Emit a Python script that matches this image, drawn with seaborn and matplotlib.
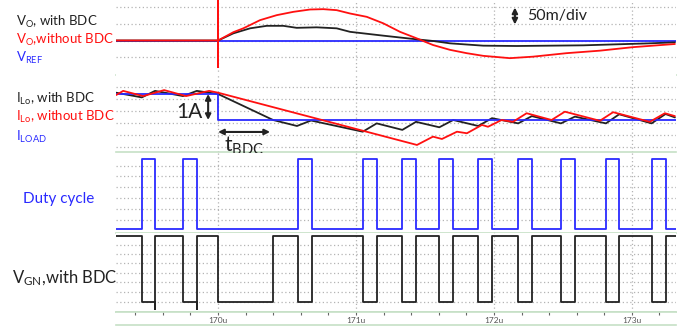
import numpy as np
import seaborn as sns
import matplotlib.pyplot as plt

# time axis (us)
t_min, t_max = 169.26, 173.32
t_major = [170, 171, 172, 173]
t_major_labels = ['170u', '171u', '172u', '173u']
t_minor = [169.4, 169.6, 169.8, 170.2, 170.4, 170.6, 170.8, 171.2, 171.4, 171.6, 171.8,
           172.2, 172.4, 172.6, 172.8, 173.2]

# output voltage deviation (mV), 50 mV/div
vo_nobdc_t = [169.26, 170.0, 170.0, 170.0, 170.0, 170.111, 170.183, 170.304, 170.425, 170.546,
              170.667, 170.763, 170.86, 170.957, 171.078, 171.198, 171.319, 171.44, 171.558,
              171.681, 171.802, 171.922, 172.116, 172.283, 172.527, 172.768, 173.007, 173.312]
vo_nobdc = [0, 0, 130, -80, 0, 25, 36.5, 61, 76, 86,
            93, 94, 91, 81, 71, 51.5, 26, 6.5, -13.5,
            -28, -38, -46, -53, -48.5, -38, -30.5, -20, -10.5]
vo_bdc_t = [169.26, 170.0, 170.111, 170.232, 170.353, 170.473, 170.57, 170.715, 170.86, 170.957,
            171.198, 171.44, 171.56, 171.681, 171.922, 172.164, 172.406, 172.647, 172.889,
            173.13, 173.312]
vo_bdc = [0, 0, 21.5, 36.5, 44, 44, 38, 39.5, 36.5, 26,
          14.5, 3.5, -1.5, -8.5, -15.5, -16.5, -15.5, -14.5, -11.5,
          -8.5, -5.5]
vref_t = [169.26, 173.32]
vref = [0, 0]

# inductor current (A, relative to final load)
il_bdc_t = [169.261, 169.447, 169.543, 169.746, 169.846, 170.0, 170.399, 170.572, 170.674,
            171.049, 171.15, 171.336, 171.435, 171.604, 171.705, 171.886, 171.986, 172.176,
            172.275, 172.486, 172.587, 172.812, 172.908, 173.143, 173.244, 173.312]
il_bdc = [1.05, 0.87, 1.12, 0.92, 1.12, 1.0, 0.0, -0.23, -0.02,
          -0.45, -0.13, -0.38, -0.07, -0.28, 0.0, -0.23, 0.07, -0.13,
          0.15, -0.13, 0.13, -0.13, 0.22, -0.13, 0.23, 0.10]
il_nobdc_t = [169.261, 169.312, 169.457, 169.609, 169.768, 169.935, 170.0, 171.442, 171.558,
              171.623, 171.732, 171.804, 171.913, 171.957, 172.056, 172.138, 172.237, 172.418,
              172.514, 172.768, 172.864, 173.13, 173.239, 173.312]
il_nobdc = [0.96, 1.12, 0.92, 1.15, 0.92, 1.12, 1.05, -0.96, -0.64,
            -0.73, -0.45, -0.51, -0.19, -0.26, 0.0, -0.07, 0.26, 0.0,
            0.32, -0.03, 0.30, -0.07, 0.26, 0.15]
iload_t = [169.26, 170.0, 170.0, 173.32]
iload = [1.0, 1.0, 0.0, 0.0]

# duty cycle pulses (rise, fall) in us
duty_rise = [169.447, 169.746, 170.578, 171.049, 171.336, 171.604, 171.886, 172.176, 172.486, 172.812, 173.143]
duty_fall = [169.543, 169.846, 170.679, 171.15, 171.435, 171.705, 171.983, 172.273, 172.587, 172.908, 173.245]

# low-side gate: low intervals
vgn_fall = [169.447, 169.746, 170.002, 170.578, 171.049, 171.336, 171.604, 171.886, 172.176, 172.486, 172.812, 173.143]
vgn_rise = [169.543, 169.846, 170.396, 170.679, 171.15, 171.435, 171.705, 171.983, 172.273, 172.587, 172.908, 173.245]
vgn_spike = [169.543, 169.846]

RED = '#ff1010'
BLUE = '#2a2aff'
BLACK = '#222222'
GREEN = '#c6e0c6'
GRID = '#b4b4b4'

sns.set_style('white')
plt.rcParams['font.family'] = ['Lato', 'DejaVu Sans']
plt.rcParams['mathtext.fontset'] = 'custom'
plt.rcParams['mathtext.rm'] = 'Lato'
plt.rcParams['mathtext.it'] = 'Lato:italic'

W, H = 700, 332
fig = plt.figure(figsize=(7, 3.32), dpi=100)


def panel(ytop, ybot):
    ax = fig.add_axes([116 / W, 1 - ybot / H, 560 / W, (ybot - ytop) / H])
    ax.set_xlim(t_min, t_max)
    for s in ['top', 'left', 'right']:
        ax.spines[s].set_visible(False)
    ax.spines['bottom'].set_color(GREEN)
    ax.spines['bottom'].set_linewidth(1.2)
    ax.set_xticks([])
    ax.set_yticks([])
    for t in t_major:
        ax.axvline(t, color=GRID, lw=0.9, ls=(0, (1, 2)), zorder=0)
    return ax


def hgrid(ax, levels):
    for v in levels:
        ax.axhline(v, color=GRID, lw=0.9, ls=(0, (1, 2)), zorder=0)


def square(rises, falls, start, hi, lo, spikes=(), spike_lvl=None):
    xs, ys = [t_min], [start]
    if start == lo:
        for r, f in zip(rises, falls):
            xs += [r, r, f, f]
            ys += [lo, hi, hi, lo]
        ys.append(lo)
    else:
        for f, r in zip(rises, falls):
            xs += [f, f, r]
            ys += [hi, lo, lo]
            if r in spikes:
                xs.append(r)
                ys.append(spike_lvl)
            xs.append(r)
            ys.append(hi)
        ys.append(hi)
    xs.append(t_max)
    return xs, ys


kw = dict(estimator=None, sort=False, lw=1.3, legend=False)
arrow = dict(arrowstyle='<|-|>', color=BLACK, lw=1.5, mutation_scale=8, shrinkA=0, shrinkB=0)

# panel 1: output voltage
ax1 = panel(0, 74.5)
ax1.set_ylim(-102, 121.5)
hgrid(ax1, [100, 50, 0, -50])
sns.lineplot(x=vref_t, y=vref, color=BLUE, ax=ax1, **kw)
sns.lineplot(x=vo_bdc_t, y=vo_bdc, color=BLACK, ax=ax1, **kw)
sns.lineplot(x=vo_nobdc_t, y=vo_nobdc, color=RED, ax=ax1, **kw)
ax1.annotate('', xy=(172.152, 99), xytext=(172.152, 48), arrowprops=arrow)
ax1.text(172.24, 73, '50m/div', fontsize=11.5, va='center', ha='left', color=BLACK)

# panel 2: inductor current
ax2 = panel(74.5, 152.5)
ax2.set_ylim(-1.25, 1.75)
hgrid(ax2, [1.27, 0.81, 0.35, -0.12, -0.58, -1.04])
sns.lineplot(x=il_bdc_t, y=il_bdc, color=BLACK, ax=ax2, **kw)
sns.lineplot(x=iload_t, y=iload, color=BLUE, ax=ax2, **kw)
sns.lineplot(x=il_nobdc_t, y=il_nobdc, color=RED, ax=ax2, **kw)
ax2.annotate('', xy=(169.928, 1.0), xytext=(169.928, 0.0), arrowprops=arrow)
ax2.text(169.89, 0.3, '1A', fontsize=15, va='center', ha='right', color=BLACK)
ax2.annotate('', xy=(170.0, -0.46), xytext=(170.377, -0.46), arrowprops=arrow)
ax2.text(170.19, -1.0, r't$_\mathrm{BDC}$', fontsize=15, va='center', ha='center', color=BLACK)

# panel 3: duty cycle
ax3 = panel(152.5, 232.5)
ax3.set_ylim(-0.05, 1.093)
hgrid(ax3, [0.9, 0.757, 0.6, 0.443, 0.286, 0.129])
dx, dy = square(duty_rise, duty_fall, 0, 1, 0)
sns.lineplot(x=dx, y=dy, color=BLUE, ax=ax3, **kw)

# panel 4: low side gate
ax4 = panel(232.5, 312)
ax4.set_ylim(-0.152, 1.053)
hgrid(ax4, [0.864, 0.727, 0.591, 0.439, 0.303, 0.152, 0])
gx, gy = square(vgn_fall, vgn_rise, 1, 1, 0, spikes=vgn_spike, spike_lvl=-0.106)
sns.lineplot(x=gx, y=gy, color=BLACK, ax=ax4, **kw)

# time ruler
axt = fig.add_axes([116 / W, 1 - 325 / H, 560 / W, 13 / H])
axt.set_xlim(t_min, t_max)
axt.set_ylim(0, 1)
for s in ['left', 'right']:
    axt.spines[s].set_visible(False)
for s in ['top', 'bottom']:
    axt.spines[s].set_color(GREEN)
    axt.spines[s].set_linewidth(1.2)
axt.set_yticks([])
axt.set_xticks(t_major + t_minor)
axt.set_xticklabels([])
axt.tick_params(axis='x', top=True, bottom=False, direction='in', length=2.5,
                width=0.8, color='#666666')
for t, lab in zip(t_major, t_major_labels):
    axt.text(t, 0.35, lab, fontsize=6, ha='center', va='center', color='#555555')

# left-hand labels
def label(x, y, s, c, size=9.5):
    fig.text(x / W, 1 - y / H, s, color=c, fontsize=size, va='center', ha='left')


label(16, 22, r'V$_\mathrm{O}$, with BDC', BLACK)
label(16, 40, r'V$_\mathrm{O}$,without BDC', RED)
label(16, 58, r'V$_\mathrm{REF}$', BLUE)
label(16, 99, r'I$_\mathrm{Lo}$, with BDC', BLACK)
label(16, 117, r'I$_\mathrm{Lo}$, without BDC', RED)
label(16, 137, r'I$_\mathrm{LOAD}$', BLUE)
label(23, 199, 'Duty cycle', BLUE, 11)
label(12, 278, r'V$_\mathrm{GN}$,with BDC', BLACK, 12)

fig.savefig('out.png', dpi=100)
